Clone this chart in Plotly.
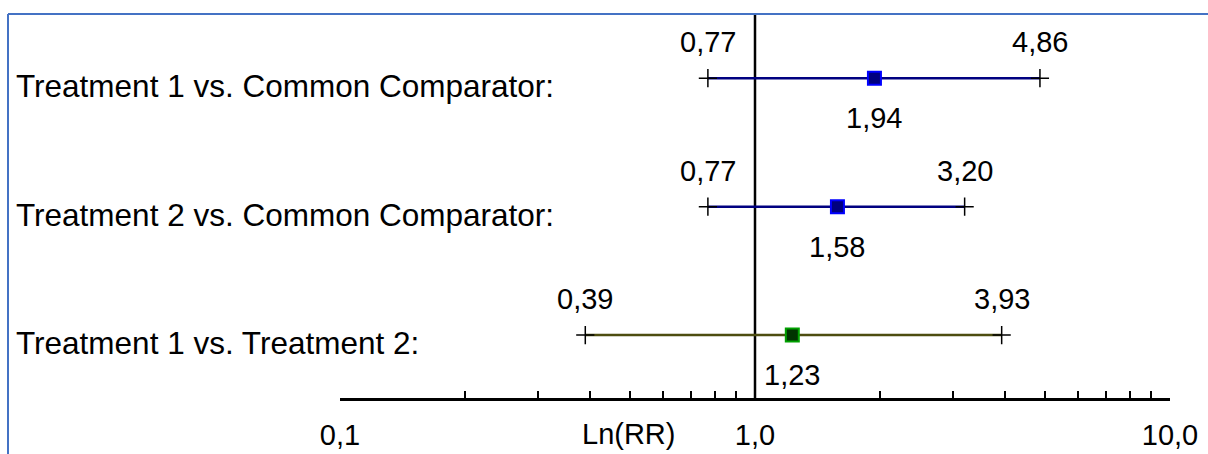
import numpy as np
import plotly.graph_objects as go

# Comparisons, top to bottom
comparisons = ["Treatment 1 vs. Common Comparator:",
               "Treatment 2 vs. Common Comparator:",
               "Treatment 1 vs. Treatment 2:"]
rr_point = [1.94, 1.58, 1.23]
rr_low = [0.77, 0.77, 0.39]
rr_high = [4.86, 3.20, 3.93]
row_pos = [3, 2, 1]

line_colors = ["#000080", "#000080", "#4d4d10"]
box_fill = ["#000080", "#000080", "#003300"]
box_edge = ["#0000ff", "#0000ff", "#00a000"]

# log axis ticks: decades labelled, intermediate ticks unlabelled
decades = [0.1, 1.0, 10.0]
tick_vals = sorted({round(d * k, 4) for d in [0.1, 1.0] for k in range(1, 10)} | {10.0})
tick_text = [f"{v:.1f}".replace(".", ",") if v in decades else "" for v in tick_vals]

FONT = "Liberation Sans"
NUM_SIZE = 29
LABEL_SIZE = 31.5


def fmt(v):
    return f"{v:.2f}".replace(".", ",")


fig = go.Figure()

for i in range(len(comparisons)):
    y = row_pos[i]
    fig.add_trace(go.Scatter(
        x=[rr_low[i], rr_high[i]], y=[y, y], mode="lines",
        line=dict(color=line_colors[i], width=2.5),
        hoverinfo="skip", showlegend=False))
    fig.add_trace(go.Scatter(
        x=[rr_low[i], rr_high[i]], y=[y, y], mode="markers",
        marker=dict(symbol="cross-thin", size=13,
                    line=dict(color="black", width=1.5)),
        hoverinfo="skip", showlegend=False))
    fig.add_trace(go.Scatter(
        x=[rr_point[i]], y=[y], mode="markers",
        marker=dict(symbol="square", size=13, color=box_fill[i],
                    line=dict(color=box_edge[i], width=2)),
        hoverinfo="skip", showlegend=False))

annotations = []
for i in range(len(comparisons)):
    y = row_pos[i]
    for v in (rr_low[i], rr_high[i]):
        annotations.append(dict(
            x=np.log10(v), y=y, xref="x", yref="y", text=fmt(v),
            showarrow=False, xanchor="center", yanchor="middle", yshift=36,
            font=dict(family=FONT, size=NUM_SIZE, color="black")))
    annotations.append(dict(
        x=np.log10(rr_point[i]), y=y, xref="x", yref="y", text=fmt(rr_point[i]),
        showarrow=False, xanchor="center", yanchor="middle", yshift=-40,
        font=dict(family=FONT, size=NUM_SIZE, color="black")))
    annotations.append(dict(
        x=(14 - 340) / 830, y=y, xref="paper", yref="y", text=comparisons[i],
        showarrow=False, xanchor="left", yanchor="middle", yshift=-8,
        font=dict(family=FONT, size=LABEL_SIZE, color="black")))

annotations.append(dict(
    x=0.347, y=-0.094, xref="paper", yref="paper", text="Ln(RR)",
    showarrow=False, xanchor="center", yanchor="middle",
    font=dict(family=FONT, size=NUM_SIZE, color="black")))

shapes = [
    # frame around the chart
    dict(type="line", xref="paper", yref="paper",
         x0=(8 - 340) / 830, x1=1.2, y0=1.0, y1=1.0,
         line=dict(color="#4472c4", width=2)),
    dict(type="line", xref="paper", yref="paper",
         x0=(8 - 340) / 830, x1=(8 - 340) / 830, y0=-0.5, y1=1.0,
         line=dict(color="#4472c4", width=2)),
    # line of no effect
    dict(type="line", xref="x", yref="paper", x0=1, x1=1, y0=-0.005, y1=1.0,
         line=dict(color="black", width=2.5), layer="below"),
]

fig.update_layout(
    width=1208, height=454,
    margin=dict(l=340, r=38, t=14, b=56, autoexpand=False),
    paper_bgcolor="white", plot_bgcolor="white",
    font=dict(family=FONT, color="black"),
    annotations=annotations, shapes=shapes,
    xaxis=dict(type="log", range=[-1, 1], showgrid=False, zeroline=False,
               automargin=False,
               showline=True, linecolor="black", linewidth=2.5,
               tickmode="array", tickvals=tick_vals, ticktext=tick_text,
               ticks="inside", ticklen=7, tickwidth=2, tickcolor="black",
               ticklabelstandoff=9,
               tickfont=dict(family=FONT, size=NUM_SIZE, color="black")),
    yaxis=dict(range=[0.51, 3.5], visible=False, showgrid=False, zeroline=False,
               automargin=False),
)

fig.write_html("out.html")
